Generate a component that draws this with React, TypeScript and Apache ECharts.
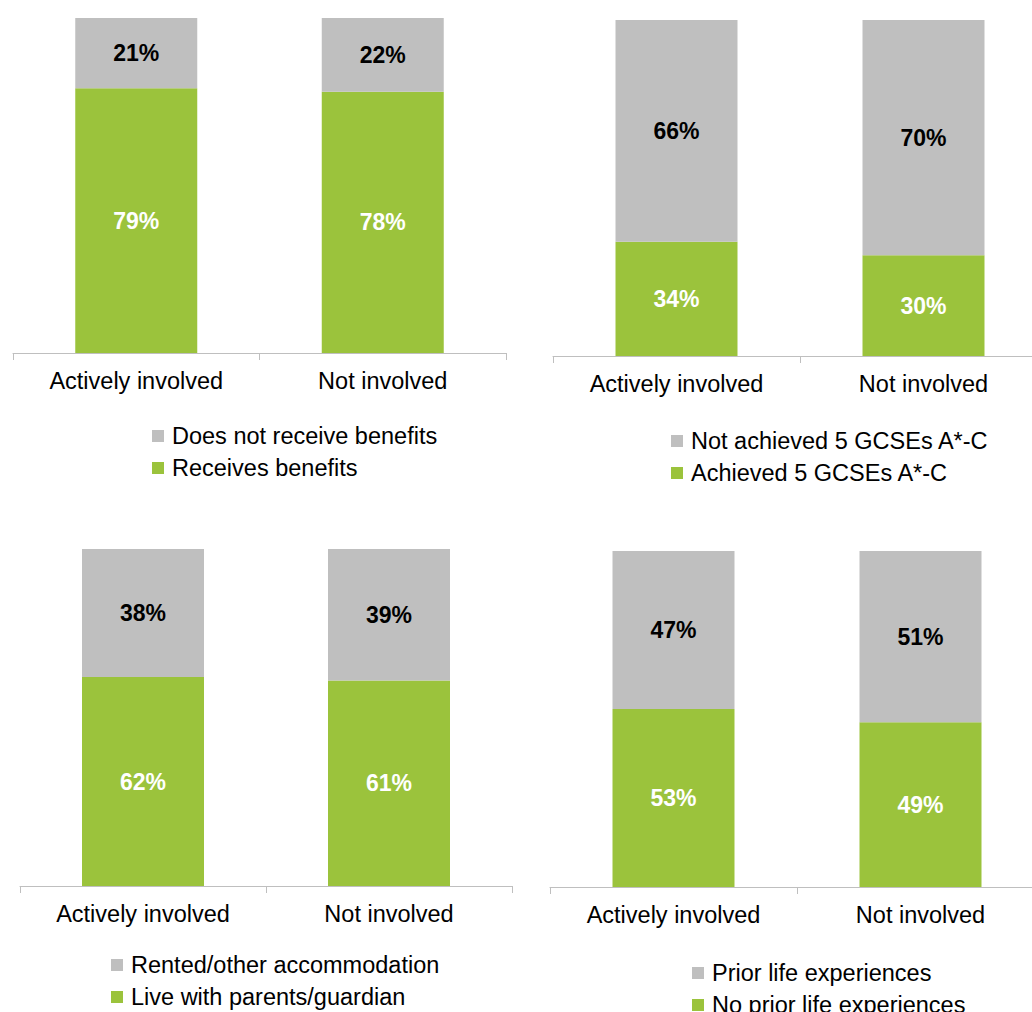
import React, { useEffect, useRef } from "react";
import * as echarts from "echarts";

const categories = ["Actively involved", "Not involved"];

const benefitsNames = ["Does not receive benefits", "Receives benefits"];
const benefitsGray = [21, 22];
const benefitsGreen = [79, 78];

const gcseNames = ["Not achieved 5 GCSEs A*-C", "Achieved 5 GCSEs A*-C"];
const gcseGray = [66, 70];
const gcseGreen = [34, 30];

const accomNames = ["Rented/other accommodation", "Live with parents/guardian"];
const accomGray = [38, 39];
const accomGreen = [62, 61];

const priorNames = ["Prior life experiences", "No prior life experiences"];
const priorGray = [47, 51];
const priorGreen = [53, 49];

const GREEN = "#9BC33C";
const GRAY = "#BFBFBF";
const FONT = "'Liberation Sans', Arial, sans-serif";

const panels = [
  { names: benefitsNames, gray: benefitsGray, green: benefitsGreen, grid: { left: 13, top: 18, width: 493, height: 335 }, legend: { left: 152, top: 423 } },
  { names: gcseNames, gray: gcseGray, green: gcseGreen, grid: { left: 553, top: 20, width: 494, height: 336 }, legend: { left: 671, top: 428 } },
  { names: accomNames, gray: accomGray, green: accomGreen, grid: { left: 20, top: 549, width: 492, height: 337 }, legend: { left: 111, top: 952 } },
  { names: priorNames, gray: priorGray, green: priorGreen, grid: { left: 550, top: 551, width: 494, height: 336 }, legend: { left: 692, top: 960 } },
];

export default function App() {
  const ref = useRef<HTMLDivElement>(null);
  useEffect(() => {
    document.body.style.margin = "0";
    if (!ref.current) return;
    const chart = echarts.init(ref.current, null, { renderer: "svg" });
    const grid: any[] = [];
    const xAxis: any[] = [];
    const yAxis: any[] = [];
    const series: any[] = [];
    const legend: any[] = [];
    panels.forEach((p, i) => {
      grid.push({ ...p.grid, containLabel: false });
      xAxis.push({
        type: "category",
        gridIndex: i,
        data: categories,
        axisLine: { lineStyle: { color: "#BFBFBF", width: 1 } },
        axisTick: { show: true, length: 7, lineStyle: { color: "#BFBFBF" } },
        axisLabel: { color: "#000", fontSize: 23.5, fontFamily: FONT, margin: 16 },
      });
      yAxis.push({ type: "value", gridIndex: i, min: 0, max: 100, show: false, splitLine: { show: false } });
      series.push({
        type: "bar",
        name: p.names[1],
        xAxisIndex: i,
        yAxisIndex: i,
        stack: "s" + i,
        barWidth: 122,
        data: p.green,
        itemStyle: { color: GREEN },
        label: { show: true, position: "inside", formatter: "{c}%", color: "#fff", fontWeight: "bold", fontSize: 23, fontFamily: FONT },
      });
      series.push({
        type: "bar",
        name: p.names[0],
        xAxisIndex: i,
        yAxisIndex: i,
        stack: "s" + i,
        barWidth: 122,
        data: p.gray,
        itemStyle: { color: GRAY },
        label: { show: true, position: "inside", formatter: "{c}%", color: "#000", fontWeight: "bold", fontSize: 23, fontFamily: FONT },
      });
      [0, 1].forEach((k) => {
        legend.push({
          data: [p.names[k]],
          orient: "vertical",
          left: p.legend.left,
          top: p.legend.top + k * 32,
          icon: "rect",
          itemWidth: 12,
          itemHeight: 12,
          padding: 0,
          textStyle: { color: "#000", fontSize: 23.5, fontFamily: FONT, lineHeight: 26, padding: [0, 0, 0, 3] },
        });
      });
    });
    chart.setOption({
      animation: false,
      backgroundColor: "#fff",
      grid,
      xAxis,
      yAxis,
      series,
      legend,
    });
    return () => chart.dispose();
  }, []);
  return (
    <div style={{ width: 1032, height: 1012, overflow: "hidden", position: "relative" }}>
      <div ref={ref} style={{ width: 1070, height: 1040 }} />
    </div>
  );
}
